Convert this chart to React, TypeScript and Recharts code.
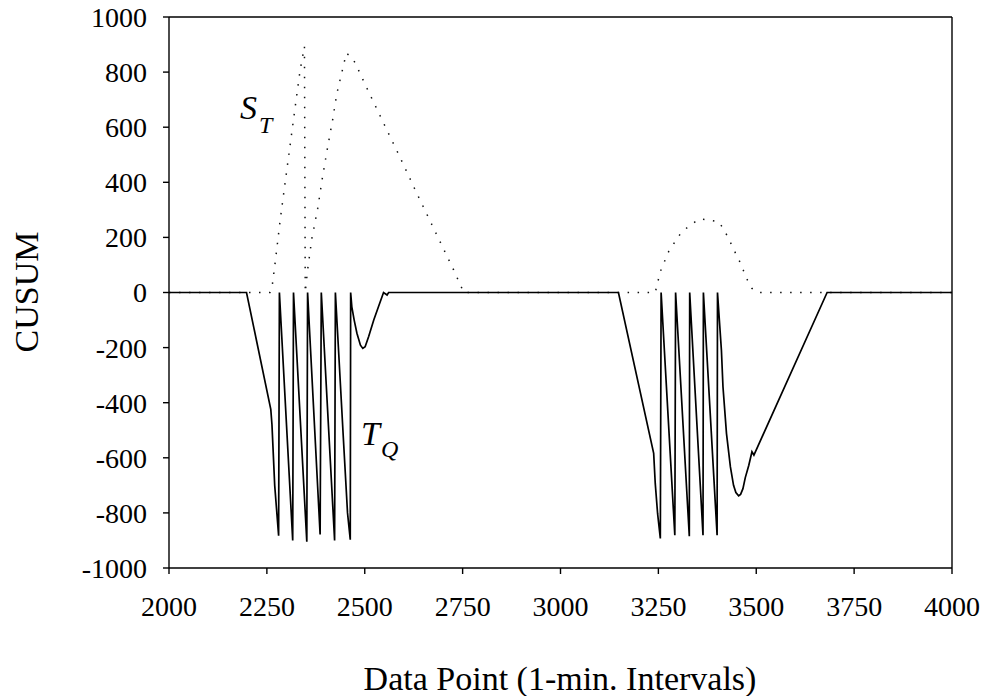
import React from "react";
import {
  LineChart,
  Line,
  XAxis,
  YAxis,
  ReferenceLine,
  Customized,
} from "recharts";

// T_Q cusum (solid line)
const tqX = [
  2000, 2198, 2260, 2263, 2270, 2280, 2282, 2316, 2318, 2352, 2354, 2386, 2389,
  2423, 2425, 2445, 2456, 2463, 2464, 2467, 2473, 2480, 2489, 2495, 2501, 2510,
  2523, 2535, 2548, 2557, 2561, 3148, 3238, 3242, 3248, 3255, 3257, 3292, 3294,
  3329, 3330, 3364, 3365, 3400, 3401, 3411, 3415, 3424, 3434, 3442, 3448, 3455,
  3460, 3466, 3472, 3481, 3489, 3494, 3681, 4000,
];
const tqY = [
  0, 0, -424, -480, -700, -883, 0, -900, 0, -905, 0, -878, 0, -900, 0, -520,
  -800, -897, 0, -52, -100, -148, -191, -203, -197, -160, -100, -52, 0, -9, 0, 0,
  -584, -693, -802, -893, 0, -881, 0, -885, 0, -881, 0, -881, 0, -209, -342,
  -512, -633, -700, -726, -738, -733, -712, -672, -627, -578, -590, 0, 0,
];

// S_T cusum (dotted line)
const stX = [
  2000, 2258, 2263, 2272, 2284, 2297, 2310, 2323, 2335, 2346, 2348, 2354, 2365,
  2380, 2391, 2404, 2418, 2429, 2442, 2453, 2469, 2481, 2504, 2540, 2587, 2633,
  2680, 2727, 2753, 3242, 3255, 3276, 3291, 3309, 3332, 3355, 3380, 3404, 3418,
  3431, 3442, 3455, 3466, 3476, 3489, 3504, 4000,
];
const stY = [
  0, 0, 17, 118, 263, 403, 542, 681, 808, 893, 0, 82, 197, 306, 409, 518, 627,
  724, 802, 869, 851, 817, 746, 639, 500, 360, 221, 82, 0, 0, 76, 148, 181, 219,
  245, 267, 263, 257, 227, 191, 157, 121, 84, 49, 15, 0, 0,
];

const xTicks = [2000, 2250, 2500, 2750, 3000, 3250, 3500, 3750, 4000];
const yTicks = [-1000, -800, -600, -400, -200, 0, 200, 400, 600, 800, 1000];

const tqData = tqX.map((x, i) => ({ x, y: tqY[i] }));
const stData = stX.map((x, i) => ({ x, y: stY[i] }));

const FONT = "'Liberation Serif', 'Times New Roman', serif";
const tickStyle = { fontSize: 28, fill: "#000", fontFamily: FONT };

const Labels = () => (
  <g fontFamily={FONT} fill="#000">
    <text
      x={38}
      y={292}
      fontSize={34}
      textAnchor="middle"
      transform="rotate(-90 38 292)"
    >
      CUSUM
    </text>
    <text x={560} y={690} fontSize={34} textAnchor="middle">
      Data Point (1-min. Intervals)
    </text>
    <text x={240} y={119} fontSize={34} fontStyle="italic">
      S
      <tspan x={259} y={133} fontSize={24}>
        T
      </tspan>
    </text>
    <text x={361} y={445} fontSize={34} fontStyle="italic">
      T
      <tspan x={381} y={457} fontSize={24}>
        Q
      </tspan>
    </text>
  </g>
);

export default function App() {
  return (
    <div style={{ position: "absolute", left: 0, top: 0, background: "#fff" }}>
      <LineChart
        width={982}
        height={696}
        margin={{ top: 17, right: 30, bottom: 68, left: 89 }}
      >
        <XAxis
          type="number"
          dataKey="x"
          domain={[2000, 4000]}
          ticks={xTicks}
          allowDataOverflow
          height={60}
          tick={tickStyle}
          tickSize={6}
          tickMargin={22}
          axisLine={{ stroke: "#000", strokeWidth: 1.4 }}
          tickLine={{ stroke: "#000", strokeWidth: 1.4 }}
        />
        <YAxis
          type="number"
          dataKey="y"
          domain={[-1000, 1000]}
          ticks={yTicks}
          allowDataOverflow
          width={80}
          tick={tickStyle}
          tickSize={6}
          tickMargin={16}
          axisLine={{ stroke: "#000", strokeWidth: 1.4 }}
          tickLine={{ stroke: "#000", strokeWidth: 1.4 }}
        />
        <ReferenceLine y={1000} stroke="#000" strokeWidth={1.4} />
        <ReferenceLine x={4000} stroke="#000" strokeWidth={1.4} />
        <Line
          data={stData}
          dataKey="y"
          type="linear"
          stroke="#111"
          strokeWidth={1.5}
          strokeDasharray="1.5 8.5"
          dot={false}
          activeDot={false}
          isAnimationActive={false}
        />
        <Line
          data={tqData}
          dataKey="y"
          type="linear"
          stroke="#000"
          strokeWidth={1.7}
          dot={false}
          activeDot={false}
          isAnimationActive={false}
        />
        <Customized component={Labels} />
      </LineChart>
    </div>
  );
}
